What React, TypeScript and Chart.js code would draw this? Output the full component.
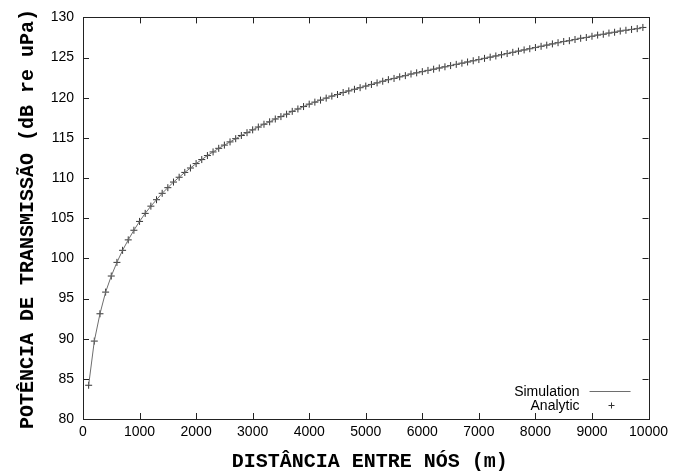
import React, { useEffect, useRef } from "react";
import { Chart, registerables } from "chart.js";

Chart.register(...registerables);

const distances = [
  100, 200, 300, 400, 500, 600, 700, 800, 900, 1000,
  1100, 1200, 1300, 1400, 1500, 1600, 1700, 1800, 1900, 2000,
  2100, 2200, 2300, 2400, 2500, 2600, 2700, 2800, 2900, 3000,
  3100, 3200, 3300, 3400, 3500, 3600, 3700, 3800, 3900, 4000,
  4100, 4200, 4300, 4400, 4500, 4600, 4700, 4800, 4900, 5000,
  5100, 5200, 5300, 5400, 5500, 5600, 5700, 5800, 5900, 6000,
  6100, 6200, 6300, 6400, 6500, 6600, 6700, 6800, 6900, 7000,
  7100, 7200, 7300, 7400, 7500, 7600, 7700, 7800, 7900, 8000,
  8100, 8200, 8300, 8400, 8500, 8600, 8700, 8800, 8900, 9000,
  9100, 9200, 9300, 9400, 9500, 9600, 9700, 9800, 9900,
];

const simulationDb = [
  84.2, 89.7, 93.1, 95.8, 97.8, 99.5, 101.0, 102.3, 103.5, 104.6,
  105.6, 106.5, 107.3, 108.1, 108.8, 109.5, 110.1, 110.7, 111.25, 111.8,
  112.3, 112.8, 113.25, 113.7, 114.1, 114.5, 114.9, 115.3, 115.65, 116.0,
  116.35, 116.7, 117.0, 117.35, 117.65, 117.95, 118.3, 118.6, 118.9, 119.2,
  119.45, 119.7, 119.95, 120.2, 120.4, 120.65, 120.85, 121.05, 121.25, 121.45,
  121.65, 121.85, 122.05, 122.25, 122.4, 122.6, 122.75, 122.95, 123.1, 123.25,
  123.4, 123.55, 123.7, 123.85, 124.0, 124.15, 124.3, 124.45, 124.6, 124.75,
  124.9, 125.05, 125.2, 125.35, 125.5, 125.65, 125.8, 125.95, 126.1, 126.25,
  126.4, 126.55, 126.7, 126.85, 127.0, 127.1, 127.25, 127.4, 127.5, 127.65,
  127.8, 127.9, 128.05, 128.15, 128.3, 128.4, 128.5, 128.6, 128.75,
];

const analyticDb = [
  84.2, 89.7, 93.1, 95.8, 97.8, 99.5, 101.0, 102.3, 103.5, 104.6,
  105.6, 106.5, 107.3, 108.1, 108.8, 109.5, 110.1, 110.7, 111.25, 111.8,
  112.3, 112.8, 113.25, 113.7, 114.1, 114.5, 114.9, 115.3, 115.65, 116.0,
  116.35, 116.7, 117.0, 117.35, 117.65, 117.95, 118.3, 118.6, 118.9, 119.2,
  119.45, 119.7, 119.95, 120.2, 120.4, 120.65, 120.85, 121.05, 121.25, 121.45,
  121.65, 121.85, 122.05, 122.25, 122.4, 122.6, 122.75, 122.95, 123.1, 123.25,
  123.4, 123.55, 123.7, 123.85, 124.0, 124.15, 124.3, 124.45, 124.6, 124.75,
  124.9, 125.05, 125.2, 125.35, 125.5, 125.65, 125.8, 125.95, 126.1, 126.25,
  126.4, 126.55, 126.7, 126.85, 127.0, 127.1, 127.25, 127.4, 127.5, 127.65,
  127.8, 127.9, 128.05, 128.15, 128.3, 128.4, 128.5, 128.6, 128.75,
];

const xTitle = "DISTÂNCIA ENTRE NÓS (m)";
const yTitle = "POTÊNCIA DE TRANSMISSÃO (dB re uPa)";
const seriesLabels = ["Simulation", "Analytic"];
const xRange = [0, 10000];
const yRange = [80, 130];
const xStep = 1000;
const yStep = 5;

const LINE_COLOR = "#6e6e6e";
const MARK_COLOR = "#333333";
const FRAME_COLOR = "#222222";
const TICK_FONT = "'Liberation Sans', Arial, sans-serif";

const gnuplotPlugin = {
  id: "gnuplotDecor",
  afterDatasetsDraw(chart: any) {
    const { ctx, chartArea: a, scales } = chart;
    const xs = scales.x;
    const ys = scales.y;
    ctx.save();
    ctx.strokeStyle = FRAME_COLOR;
    ctx.lineWidth = 1;
    ctx.strokeRect(Math.round(a.left) + 0.5, Math.round(a.top) + 0.5, Math.round(a.right - a.left), Math.round(a.bottom - a.top));
    const tl = 6;
    ctx.beginPath();
    xs.ticks.forEach((t: any) => {
      const px = Math.round(xs.getPixelForValue(t.value)) + 0.5;
      ctx.moveTo(px, a.bottom);
      ctx.lineTo(px, a.bottom - tl);
      ctx.moveTo(px, a.top);
      ctx.lineTo(px, a.top + tl);
    });
    ys.ticks.forEach((t: any) => {
      const py = Math.round(ys.getPixelForValue(t.value)) + 0.5;
      ctx.moveTo(a.left, py);
      ctx.lineTo(a.left + tl, py);
      ctx.moveTo(a.right, py);
      ctx.lineTo(a.right - tl, py);
    });
    ctx.stroke();

    ctx.fillStyle = "#000000";
    ctx.font = "bold 20px 'Liberation Mono', monospace";
    ctx.textAlign = "center";
    ctx.textBaseline = "alphabetic";
    ctx.fillText(xTitle, (a.left + a.right) / 2 + 4, 467);
    ctx.save();
    ctx.translate(33, 219);
    ctx.rotate(-Math.PI / 2);
    ctx.fillText(yTitle, 0, 0);
    ctx.restore();

    ctx.font = "14px " + TICK_FONT;
    ctx.textAlign = "right";
    ctx.fillStyle = "#000000";
    const textRight = a.right - 69;
    const row1 = a.bottom - 28;
    const row2 = a.bottom - 14;
    ctx.fillText(chart.data.datasets[0].label, textRight, row1 + 5);
    ctx.fillText(chart.data.datasets[1].label, textRight, row2 + 5);
    ctx.strokeStyle = LINE_COLOR;
    ctx.beginPath();
    ctx.moveTo(textRight + 10, Math.round(row1) + 0.5);
    ctx.lineTo(textRight + 51, Math.round(row1) + 0.5);
    ctx.stroke();
    ctx.strokeStyle = MARK_COLOR;
    const cx = Math.round(textRight + 31) + 0.5;
    const cy = Math.round(row2) + 0.5;
    ctx.beginPath();
    ctx.moveTo(cx - 3, cy);
    ctx.lineTo(cx + 3, cy);
    ctx.moveTo(cx, cy - 3);
    ctx.lineTo(cx, cy + 3);
    ctx.stroke();
    ctx.restore();
  },
};

export default function App() {
  const ref = useRef<HTMLCanvasElement | null>(null);
  useEffect(() => {
    document.body.style.margin = "0";
    const canvas = ref.current;
    if (!canvas) return;
    const simPoints = distances.map((d, i) => ({ x: d, y: simulationDb[i] }));
    const anaPoints = distances.map((d, i) => ({ x: d, y: analyticDb[i] }));
    const chart = new Chart(canvas, {
      type: "line",
      data: {
        datasets: [
          {
            label: seriesLabels[0],
            data: simPoints,
            borderColor: LINE_COLOR,
            borderWidth: 1,
            pointRadius: 0,
            tension: 0,
            fill: false,
          },
          {
            label: seriesLabels[1],
            data: anaPoints,
            showLine: false,
            pointStyle: "cross",
            pointRadius: 3.5,
            pointBorderColor: MARK_COLOR,
            pointBackgroundColor: MARK_COLOR,
            pointBorderWidth: 1,
          },
        ],
      },
      options: {
        animation: false,
        responsive: false,
        maintainAspectRatio: false,
        layout: { padding: { top: 14, right: 22, left: 0, bottom: 0 } },
        plugins: {
          legend: { display: false },
          tooltip: { enabled: false },
          title: { display: false },
        },
        scales: {
          x: {
            type: "linear",
            min: xRange[0],
            max: xRange[1],
            grid: { display: false, drawTicks: false },
            border: { display: false },
            ticks: {
              stepSize: xStep,
              padding: 5,
              color: "#000000",
              font: { family: TICK_FONT, size: 14 },
              maxRotation: 0,
              autoSkip: false,
              callback: (v: any) => String(v),
            },
            afterFit: (s: any) => {
              s.height = 53;
            },
          },
          y: {
            type: "linear",
            min: yRange[0],
            max: yRange[1],
            grid: { display: false, drawTicks: false },
            border: { display: false },
            ticks: {
              stepSize: yStep,
              padding: 9,
              color: "#000000",
              font: { family: TICK_FONT, size: 14 },
              autoSkip: false,
              callback: (v: any) => String(v),
            },
            afterFit: (s: any) => {
              s.width = 83;
            },
          },
        },
      },
      plugins: [gnuplotPlugin],
    });
    return () => chart.destroy();
  }, []);
  return (
    <div style={{ width: 673, height: 472 }}>
      <canvas ref={ref} width={673} height={472} style={{ display: "block" }} />
    </div>
  );
}
